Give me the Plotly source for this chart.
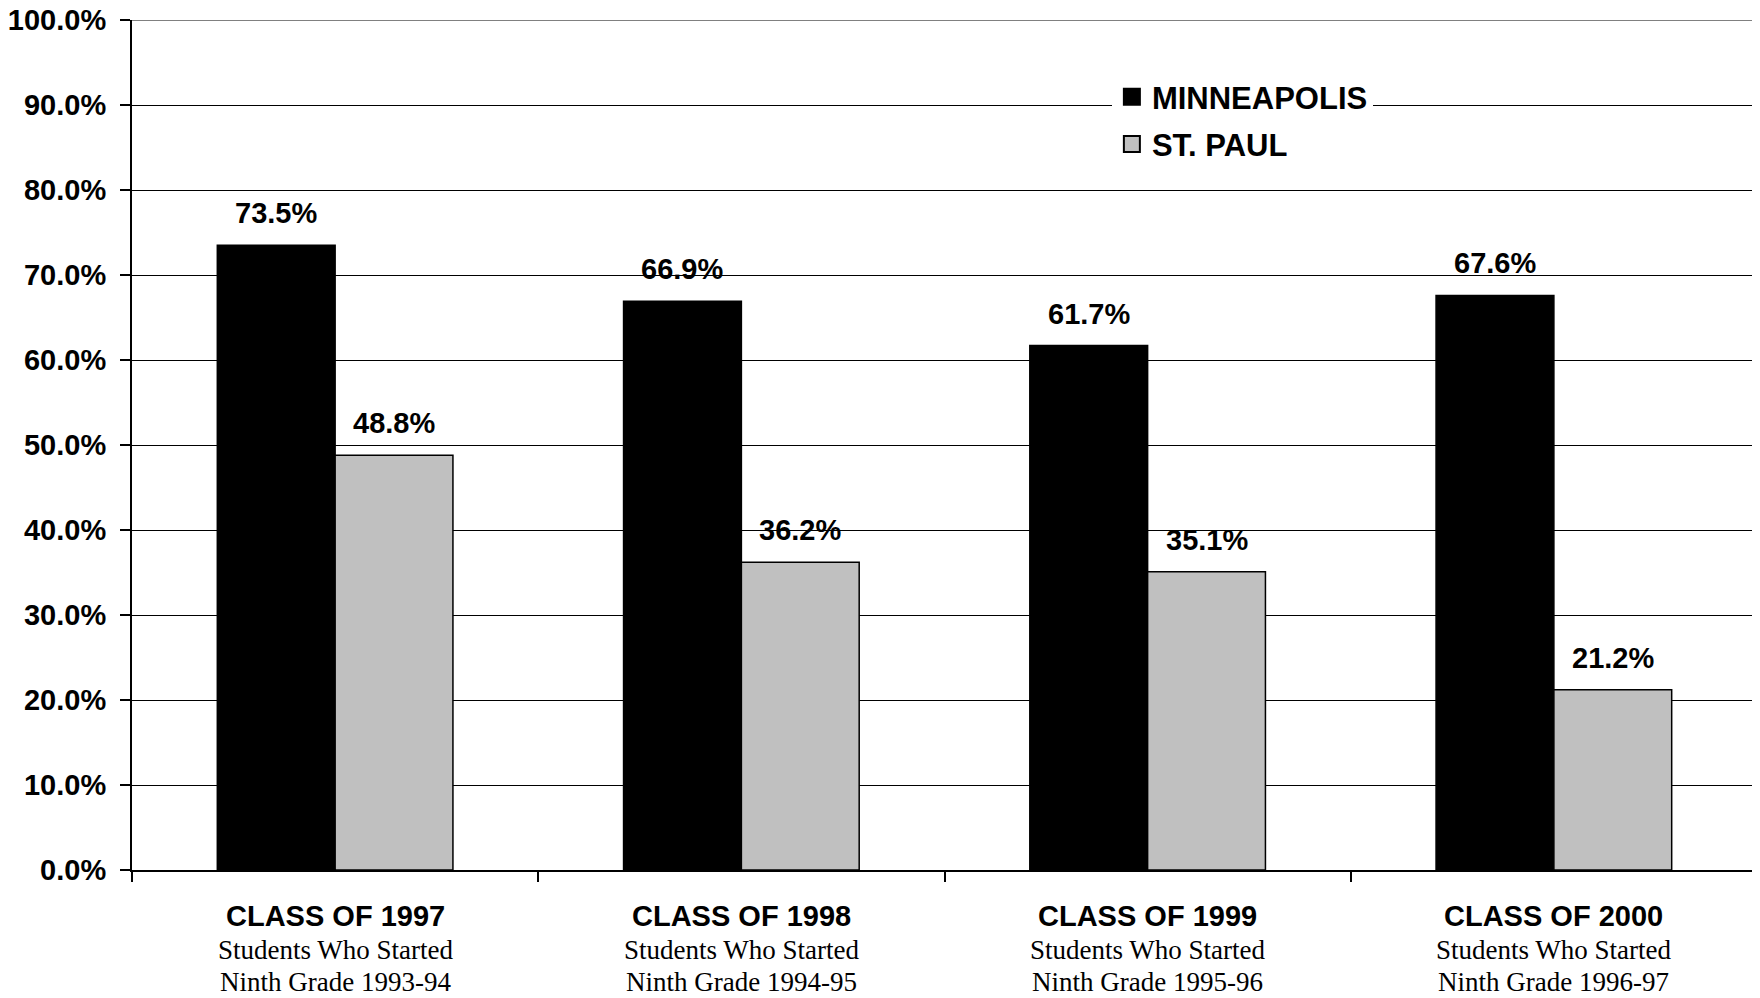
import plotly.graph_objects as go

categories = ["CLASS OF 1997", "CLASS OF 1998", "CLASS OF 1999", "CLASS OF 2000"]
sub_line1 = ["Students Who Started"] * 4
sub_line2 = ["Ninth Grade 1993-94", "Ninth Grade 1994-95", "Ninth Grade 1995-96", "Ninth Grade 1996-97"]
minneapolis = [73.5, 66.9, 61.7, 67.6]
st_paul = [48.8, 36.2, 35.1, 21.2]
y_ticks = [0, 10, 20, 30, 40, 50, 60, 70, 80, 90, 100]

SANS = "Liberation Sans, Arial, sans-serif"
SERIF = "Liberation Serif, Times New Roman, serif"
BW = 0.29

fig = go.Figure()
fig.add_trace(go.Bar(x=categories, y=minneapolis, name="MINNEAPOLIS", width=BW, offset=-BW,
                     marker=dict(color="#000000", line=dict(color="#000000", width=1.5)),
                     showlegend=False))
fig.add_trace(go.Bar(x=categories, y=st_paul, name="ST. PAUL", width=BW, offset=0,
                     marker=dict(color="#C0C0C0", line=dict(color="#000000", width=1.5)),
                     showlegend=False))
# legend proxies
fig.add_trace(go.Scatter(x=[None], y=[None], mode="markers", name="MINNEAPOLIS", legendgroup="a",
                         marker=dict(symbol="square", size=19, color="#000000", line=dict(color="#000000", width=2))))
fig.add_trace(go.Scatter(x=[None], y=[None], mode="markers", name="ST. PAUL", legendgroup="b",
                         marker=dict(symbol="square", size=19, color="#C0C0C0", line=dict(color="#000000", width=2))))

annotations = []
for i, (m, s) in enumerate(zip(minneapolis, st_paul)):
    annotations.append(dict(x=i - BW / 2, y=m, xref="x", yref="y", text=f"{m:.1f}%", showarrow=False,
                            yanchor="middle", yshift=32,
                            font=dict(family=SANS, size=29, color="#000000", weight="bold")))
    annotations.append(dict(x=i + BW / 2, y=s, xref="x", yref="y", text=f"{s:.1f}%", showarrow=False,
                            yanchor="middle", yshift=32,
                            font=dict(family=SANS, size=29, color="#000000", weight="bold")))
for i, (c, a, b) in enumerate(zip(categories, sub_line1, sub_line2)):
    annotations.append(dict(x=i, y=0, xref="x", yref="paper", text=c, showarrow=False, yanchor="middle",
                            yshift=-46, font=dict(family=SANS, size=29, color="#000000", weight="bold")))
    annotations.append(dict(x=i, y=0, xref="x", yref="paper", text=a, showarrow=False, yanchor="middle",
                            yshift=-80, font=dict(family=SERIF, size=27, color="#000000")))
    annotations.append(dict(x=i, y=0, xref="x", yref="paper", text=b, showarrow=False, yanchor="middle",
                            yshift=-112, font=dict(family=SERIF, size=27, color="#000000")))

fig.update_layout(
    width=1760, height=998,
    margin=dict(l=124, r=11, t=12, b=136, autoexpand=False),
    paper_bgcolor="white", plot_bgcolor="white",
    barmode="overlay",
    annotations=annotations,
    legend=dict(x=0.603, y=0.941, xanchor="left", yanchor="top", bgcolor="white",
                font=dict(family=SANS, size=31, color="#000000", weight="bold"),
                traceorder="grouped", tracegroupgap=4, itemclick=False),
    xaxis=dict(showticklabels=False, showline=True, linecolor="#000000", linewidth=2, automargin=False,
               ticks="outside", ticklen=10, tickwidth=2, tickcolor="#000000", tickson="boundaries",
               showgrid=False, range=[-0.5, 3.5], fixedrange=True),
    yaxis=dict(range=[0, 100], tickvals=y_ticks, ticktext=[f"{v:.1f}%" for v in y_ticks],
               showline=True, linecolor="#000000", linewidth=2, ticks="outside", ticklen=10, tickwidth=2,
               tickcolor="#000000", showgrid=True, gridcolor="#000000", gridwidth=1, zeroline=False,
               ticklabelstandoff=8, ticklabeloverflow="allow", automargin=False,
               tickfont=dict(family=SANS, size=29, color="#000000", weight="bold")),
    shapes=[
        dict(type="line", xref="paper", yref="y", x0=0, x1=1, y0=100, y1=100,
             line=dict(color="#808080", width=2)),
        dict(type="line", xref="paper", yref="y", x0=1, x1=1, y0=0, y1=100,
             line=dict(color="#404040", width=2)),
    ],
)

fig.write_html("out.html")
